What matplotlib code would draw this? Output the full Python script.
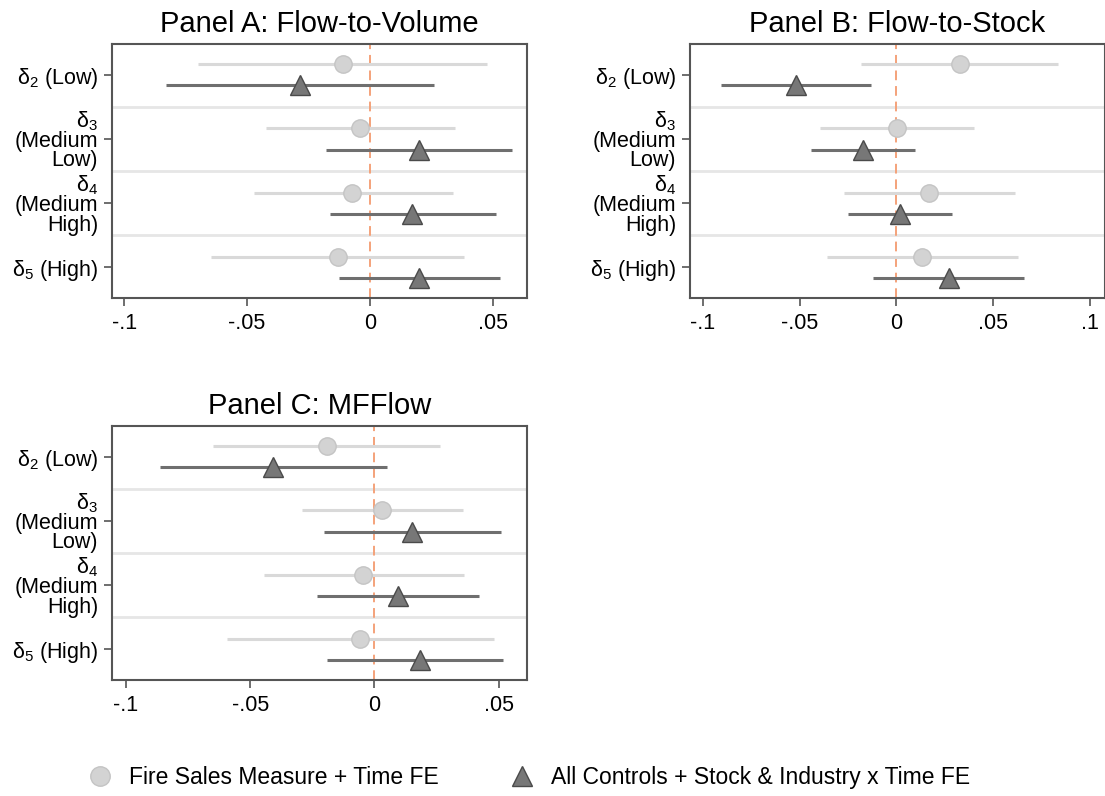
import matplotlib.pyplot as plt
from matplotlib.lines import Line2D
import numpy as np

plt.rcParams['font.family'] = ['Liberation Sans', 'DejaVu Sans']
plt.rcParams['mathtext.fontset'] = 'custom'
plt.rcParams['mathtext.rm'] = 'Liberation Sans'
plt.rcParams['mathtext.default'] = 'regular'

# coefficient labels, top to bottom
labels = ["δ$_{2}$ (Low)", "δ$_{3}$\n(Medium\nLow)", "δ$_{4}$\n(Medium\nHigh)",
          "δ$_{5}$ (High)"]

# Panel A: Flow-to-Volume
a_base = [-0.0111, -0.0041, -0.0073, -0.0129]
a_base_lo = [-0.0700, -0.0424, -0.0473, -0.0646]
a_base_hi = [0.0477, 0.0345, 0.0337, 0.0383]
a_full = [-0.0286, 0.0201, 0.0170, 0.0201]
a_full_lo = [-0.0831, -0.0178, -0.0164, -0.0125]
a_full_hi = [0.0261, 0.0580, 0.0514, 0.0531]

# Panel B: Flow-to-Stock
b_base = [0.0330, 0.0006, 0.0172, 0.0134]
b_base_lo = [-0.0181, -0.0392, -0.0271, -0.0358]
b_base_hi = [0.0836, 0.0401, 0.0612, 0.0631]
b_full = [-0.0519, -0.0172, 0.0022, 0.0271]
b_full_lo = [-0.0909, -0.0439, -0.0248, -0.0121]
b_full_hi = [-0.0131, 0.0099, 0.0289, 0.0662]

# Panel C: MFFlow
c_base = [-0.0190, 0.0029, -0.0044, -0.0056]
c_base_lo = [-0.0649, -0.0292, -0.0444, -0.0593]
c_base_hi = [0.0265, 0.0356, 0.0363, 0.0483]
c_full = [-0.0406, 0.0150, 0.0097, 0.0185]
c_full_lo = [-0.0864, -0.0201, -0.0229, -0.0190]
c_full_hi = [0.0053, 0.0511, 0.0421, 0.0518]

ticks_ac = [-0.1, -0.05, 0, 0.05]
ticklabels_ac = ["-.1", "-.05", "0", ".05"]
ticks_b = [-0.1, -0.05, 0, 0.05, 0.1]
ticklabels_b = ["-.1", "-.05", "0", ".05", ".1"]

legend_labels = ["Fire Sales Measure + Time FE",
                 "All Controls + Stock & Industry x Time FE"]

base_line = "#d9d9d9"
base_face = "#d3d3d3"
base_edge = "#c4c4c4"
full_line = "#6f6f6f"
full_face = "#777777"
full_edge = "#4a4a4a"
zero_col = "#f4a27a"
sep_col = "#e6e6e6"
spine_col = "#555555"

fig = plt.figure(figsize=(11.05, 7.96), dpi=100)

panels = [
    ("Panel A: Flow-to-Volume", [0.1014, 0.6256, 0.3756, 0.319], (-0.105, 0.064),
     ticks_ac, ticklabels_ac,
     (a_base, a_base_lo, a_base_hi), (a_full, a_full_lo, a_full_hi)),
    ("Panel B: Flow-to-Stock", [0.6244, 0.6256, 0.3756, 0.319], (-0.1067, 0.108),
     ticks_b, ticklabels_b,
     (b_base, b_base_lo, b_base_hi), (b_full, b_full_lo, b_full_hi)),
    ("Panel C: MFFlow", [0.1014, 0.1457, 0.3756, 0.319], (-0.1056, 0.0615),
     ticks_ac, ticklabels_ac,
     (c_base, c_base_lo, c_base_hi), (c_full, c_full_lo, c_full_hi)),
]

pos = np.arange(1, len(labels) + 1)
off = 0.165

for title, rect, xlim, xt, xtl, base, full in panels:
    ax = fig.add_axes(rect)
    for y in pos[:-1] + 0.5:
        ax.axhline(y, color=sep_col, lw=2, zorder=1)
    ax.axvline(0, color=zero_col, lw=1.4, ls=(0, (5, 3)), zorder=2)

    est, lo, hi = (np.array(v) for v in base)
    ax.hlines(pos - off, lo, hi, color=base_line, lw=2.2, zorder=3)
    ax.plot(est, pos - off, "o", ms=12.5, mfc=base_face, mec=base_edge,
            mew=1, zorder=4)

    est, lo, hi = (np.array(v) for v in full)
    ax.hlines(pos + off, lo, hi, color=full_line, lw=2.2, zorder=3)
    ax.plot(est, pos + off, "^", ms=14, mfc=full_face, mec=full_edge,
            mew=1, zorder=4)

    ax.set_xlim(*xlim)
    ax.set_ylim(4.48, 0.52)
    ax.set_xticks(xt)
    ax.set_xticklabels(xtl)
    ax.set_yticks(pos)
    ax.set_yticklabels(labels, linespacing=0.88)
    ax.tick_params(axis="both", labelsize=15.5, length=6, width=1.2,
                   color=spine_col, pad=4)
    ax.tick_params(axis="x", pad=5)
    for s in ax.spines.values():
        s.set_color(spine_col)
        s.set_linewidth(1.5)
    ax.set_title(title, fontsize=21, pad=9)

handles = [
    Line2D([], [], ls="none", marker="o", ms=14, mfc=base_face, mec=base_edge),
    Line2D([], [], ls="none", marker="^", ms=15, mfc=full_face, mec=full_edge),
]
fig.legend(handles, legend_labels, loc="center", ncol=2, frameon=False,
           bbox_to_anchor=(0.478, 0.023), fontsize=16.5, columnspacing=3.0,
           handlelength=1.2, handletextpad=0.7)

fig.savefig("out.png", dpi=100)
